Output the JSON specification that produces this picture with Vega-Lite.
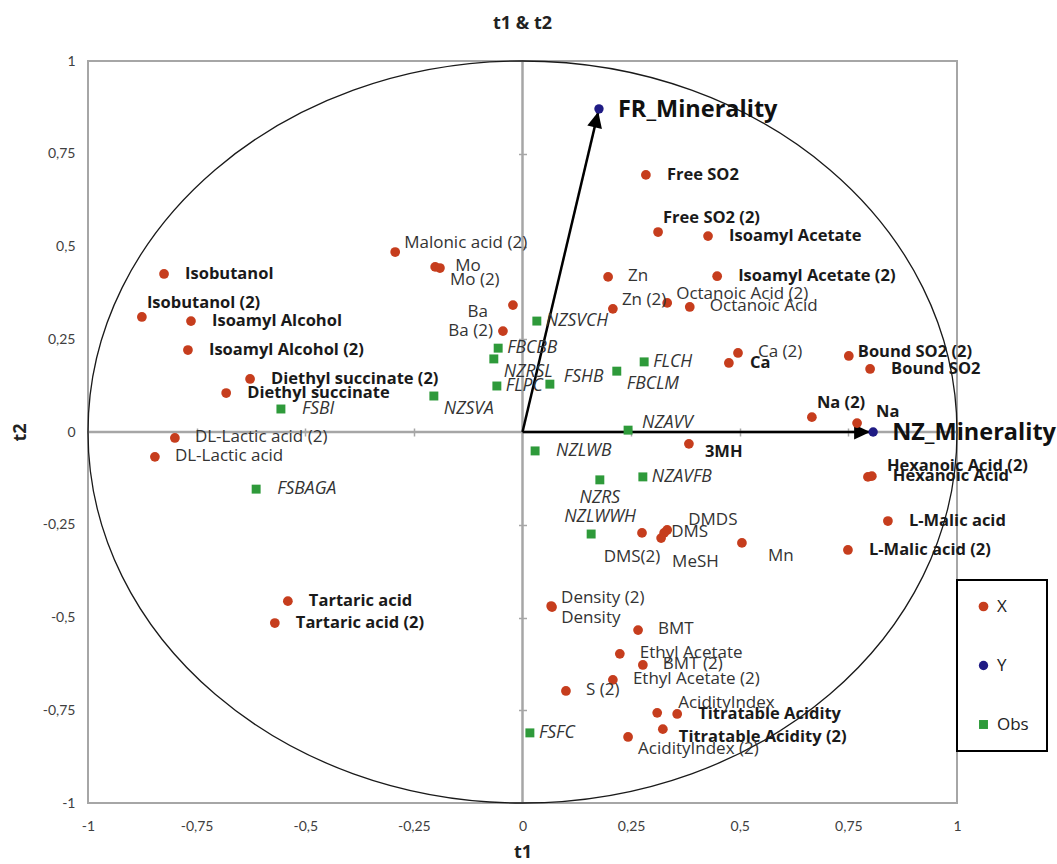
{
  "$schema": "https://vega.github.io/schema/vega-lite/v6.json",
  "width": 869,
  "height": 742,
  "autosize": {"type": "none"},
  "padding": {"left": 88, "top": 61, "right": 100, "bottom": 61},
  "background": "white",
  "title": {"text": "t1 & t2", "font": "Open Sans", "fontSize": 18, "fontWeight": "bold", "color": "#222222", "offset": 3, "baseline": "bottom", "anchor": "middle"},
  "config": {"view": {"stroke": "#a6a6a6", "strokeWidth": 2}},
  "resolve": {"axis": {"x": "independent", "y": "independent"}},
  "data": {"values": [
    {"name": "Isobutanol", "type": "X", "t1": -0.825, "t2": 0.426},
    {"name": "Isobutanol (2)", "type": "X", "t1": -0.876, "t2": 0.310},
    {"name": "Isoamyl Alcohol", "type": "X", "t1": -0.763, "t2": 0.299},
    {"name": "Isoamyl Alcohol (2)", "type": "X", "t1": -0.770, "t2": 0.221},
    {"name": "Diethyl succinate (2)", "type": "X", "t1": -0.627, "t2": 0.143},
    {"name": "Diethyl succinate", "type": "X", "t1": -0.682, "t2": 0.105},
    {"name": "DL-Lactic acid (2)", "type": "X", "t1": -0.800, "t2": -0.016},
    {"name": "DL-Lactic acid", "type": "X", "t1": -0.846, "t2": -0.067},
    {"name": "Malonic acid (2)", "type": "X", "t1": -0.293, "t2": 0.485},
    {"name": "Mo", "type": "X", "t1": -0.201, "t2": 0.445},
    {"name": "Mo (2)", "type": "X", "t1": -0.190, "t2": 0.442},
    {"name": "Ba", "type": "X", "t1": -0.022, "t2": 0.342},
    {"name": "Ba (2)", "type": "X", "t1": -0.045, "t2": 0.272},
    {"name": "Free SO2", "type": "X", "t1": 0.284, "t2": 0.693},
    {"name": "Free SO2 (2)", "type": "X", "t1": 0.312, "t2": 0.539},
    {"name": "Isoamyl Acetate", "type": "X", "t1": 0.427, "t2": 0.528},
    {"name": "Isoamyl Acetate (2)", "type": "X", "t1": 0.448, "t2": 0.420},
    {"name": "Zn", "type": "X", "t1": 0.197, "t2": 0.418},
    {"name": "Zn (2)", "type": "X", "t1": 0.208, "t2": 0.332},
    {"name": "Octanoic Acid (2)", "type": "X", "t1": 0.333, "t2": 0.348},
    {"name": "Octanoic Acid", "type": "X", "t1": 0.385, "t2": 0.337},
    {"name": "Ca (2)", "type": "X", "t1": 0.496, "t2": 0.213},
    {"name": "Ca", "type": "X", "t1": 0.475, "t2": 0.186},
    {"name": "Bound SO2 (2)", "type": "X", "t1": 0.751, "t2": 0.205},
    {"name": "Bound SO2", "type": "X", "t1": 0.800, "t2": 0.170},
    {"name": "Na (2)", "type": "X", "t1": 0.666, "t2": 0.040},
    {"name": "Na", "type": "X", "t1": 0.770, "t2": 0.024},
    {"name": "3MH", "type": "X", "t1": 0.383, "t2": -0.032},
    {"name": "Hexanoic Acid (2)", "type": "X", "t1": 0.795, "t2": -0.121},
    {"name": "Hexanoic Acid", "type": "X", "t1": 0.804, "t2": -0.119},
    {"name": "L-Malic acid", "type": "X", "t1": 0.841, "t2": -0.240},
    {"name": "L-Malic acid (2)", "type": "X", "t1": 0.749, "t2": -0.318},
    {"name": "DMDS", "type": "X", "t1": 0.333, "t2": -0.264},
    {"name": "DMS", "type": "X", "t1": 0.326, "t2": -0.272},
    {"name": "MeSH", "type": "X", "t1": 0.319, "t2": -0.286},
    {"name": "DMS(2)", "type": "X", "t1": 0.275, "t2": -0.272},
    {"name": "Mn", "type": "X", "t1": 0.505, "t2": -0.299},
    {"name": "Density (2)", "type": "X", "t1": 0.068, "t2": -0.472},
    {"name": "Density", "type": "X", "t1": 0.066, "t2": -0.469},
    {"name": "BMT", "type": "X", "t1": 0.266, "t2": -0.534},
    {"name": "Ethyl Acetate", "type": "X", "t1": 0.224, "t2": -0.598},
    {"name": "BMT (2)", "type": "X", "t1": 0.277, "t2": -0.628},
    {"name": "Ethyl Acetate (2)", "type": "X", "t1": 0.208, "t2": -0.668},
    {"name": "S (2)", "type": "X", "t1": 0.100, "t2": -0.698},
    {"name": "AcidityIndex", "type": "X", "t1": 0.310, "t2": -0.757},
    {"name": "Titratable Acidity", "type": "X", "t1": 0.356, "t2": -0.760},
    {"name": "Titratable Acidity (2)", "type": "X", "t1": 0.323, "t2": -0.801},
    {"name": "AcidityIndex (2)", "type": "X", "t1": 0.243, "t2": -0.822},
    {"name": "Tartaric acid", "type": "X", "t1": -0.540, "t2": -0.456},
    {"name": "Tartaric acid (2)", "type": "X", "t1": -0.570, "t2": -0.515},
    {"name": "FR_Minerality", "type": "Y", "t1": 0.176, "t2": 0.871},
    {"name": "NZ_Minerality", "type": "Y", "t1": 0.807, "t2": 0.0},
    {"name": "NZSVCH", "type": "Obs", "t1": 0.033, "t2": 0.299},
    {"name": "FBCBB", "type": "Obs", "t1": -0.056, "t2": 0.226},
    {"name": "NZRSL", "type": "Obs", "t1": -0.066, "t2": 0.197},
    {"name": "FLPC", "type": "Obs", "t1": -0.059, "t2": 0.124},
    {"name": "FSHB", "type": "Obs", "t1": 0.063, "t2": 0.129},
    {"name": "FBCLM", "type": "Obs", "t1": 0.217, "t2": 0.164},
    {"name": "FLCH", "type": "Obs", "t1": 0.280, "t2": 0.189},
    {"name": "NZSVA", "type": "Obs", "t1": -0.204, "t2": 0.097},
    {"name": "FSBI", "type": "Obs", "t1": -0.556, "t2": 0.062},
    {"name": "NZAVV", "type": "Obs", "t1": 0.243, "t2": 0.005},
    {"name": "NZLWB", "type": "Obs", "t1": 0.029, "t2": -0.051},
    {"name": "NZAVFB", "type": "Obs", "t1": 0.277, "t2": -0.121},
    {"name": "NZRS", "type": "Obs", "t1": 0.178, "t2": -0.129},
    {"name": "NZLWWH", "type": "Obs", "t1": 0.158, "t2": -0.275},
    {"name": "FSBAGA", "type": "Obs", "t1": -0.613, "t2": -0.154},
    {"name": "FSFC", "type": "Obs", "t1": 0.017, "t2": -0.811}
  ]},
  "layer": [
    {
      "data": {"values": [{}]},
      "mark": {"type": "rule", "color": "#a6a6a6", "strokeWidth": 2.5},
      "encoding": {
        "y": {"datum": 0, "type": "quantitative", "scale": {"domain": [-1, 1], "nice": false, "zero": false},
          "axis": {"orient": "left", "values": [-1, -0.75, -0.5, -0.25, 0, 0.25, 0.5, 0.75, 1], "labelExpr": "replace(toString(datum.value), '.', ',')", "ticks": false, "domain": false, "grid": false, "labelFlush": false, "labelPadding": 13, "labelFont": "Lato", "labelFontSize": 14, "labelColor": "#404040", "title": "t2", "titleFont": "Open Sans", "titleFontSize": 18, "titleFontWeight": "bold", "titleColor": "#222222", "titleAngle": -90, "titleX": -68, "titleY": 371, "titleAlign": "center", "titleBaseline": "middle"}}
      }
    },
    {
      "data": {"values": [{}]},
      "mark": {"type": "rule", "color": "#a6a6a6", "strokeWidth": 2.5},
      "encoding": {
        "x": {"datum": 0, "type": "quantitative", "scale": {"domain": [-1, 1], "nice": false, "zero": false},
          "axis": {"orient": "bottom", "values": [-1, -0.75, -0.5, -0.25, 0, 0.25, 0.5, 0.75, 1], "labelExpr": "replace(toString(datum.value), '.', ',')", "ticks": false, "domain": false, "grid": false, "labelFlush": false, "labelPadding": 16, "labelFont": "Lato", "labelFontSize": 14, "labelColor": "#404040", "title": "t1", "titleFont": "Open Sans", "titleFontSize": 18, "titleFontWeight": "bold", "titleColor": "#222222", "titleY": 49, "titleBaseline": "middle"}}
      }
    },
    {
      "data": {"values": [{}]},
      "mark": {"type": "point", "shape": "M-1,0 C-1,-0.4716 -0.5523,-0.8538 0,-0.8538 C0.5523,-0.8538 1,-0.4716 1,0 C1,0.4716 0.5523,0.8538 0,0.8538 C-0.5523,0.8538 -1,0.4716 -1,0 Z", "size": 755161, "filled": false, "stroke": "#1a1a1a", "strokeWidth": 1.3, "opacity": 1},
      "encoding": {
        "x": {"datum": 0, "type": "quantitative", "axis": {"orient": "bottom", "offset": -375, "values": [-0.75, -0.5, -0.25, 0.25, 0.5, 0.75], "ticks": true, "tickSize": 8, "tickColor": "#a6a6a6", "tickWidth": 1.5, "labels": false, "domain": false, "grid": false, "title": null}},
        "y": {"datum": 0, "type": "quantitative", "axis": {"orient": "left", "offset": -438.5, "values": [-0.75, -0.5, -0.25, 0.25, 0.5, 0.75], "ticks": true, "tickSize": 8, "tickColor": "#a6a6a6", "tickWidth": 1.5, "labels": false, "domain": false, "grid": false, "title": null}}
      }
    },
    {
      "transform": [{"filter": "datum.type == 'Y'"}],
      "mark": {"type": "rule", "color": "#000000", "strokeWidth": 2.5},
      "encoding": {
        "x": {"field": "t1", "type": "quantitative", "axis": null},
        "y": {"field": "t2", "type": "quantitative", "axis": null},
        "x2": {"datum": 0},
        "y2": {"datum": 0}
      }
    },
    {
      "transform": [{"filter": "datum.name == 'NZ_Minerality'"}],
      "mark": {"type": "point", "shape": "M-0.6,0 L-3.8,-1.5 L-3.8,1.5 Z", "size": 100, "filled": true, "color": "#000000", "opacity": 1, "angle": 0},
      "encoding": {
        "x": {"field": "t1", "type": "quantitative", "axis": null},
        "y": {"field": "t2", "type": "quantitative", "axis": null}
      }
    },
    {
      "transform": [{"filter": "datum.name == 'FR_Minerality'"}],
      "mark": {"type": "point", "shape": "M-0.6,0 L-3.8,-1.5 L-3.8,1.5 Z", "size": 100, "filled": true, "color": "#000000", "opacity": 1, "angle": 283.3},
      "encoding": {
        "x": {"field": "t1", "type": "quantitative", "axis": null},
        "y": {"field": "t2", "type": "quantitative", "axis": null}
      }
    },
    {
      "mark": {"type": "point", "filled": true, "opacity": 1, "strokeWidth": 0},
      "encoding": {
        "x": {"field": "t1", "type": "quantitative", "axis": null},
        "y": {"field": "t2", "type": "quantitative", "axis": null},
        "color": {"field": "type", "type": "nominal", "scale": {"domain": ["X", "Y", "Obs"], "range": ["#c63d1d", "#1f1b84", "#2e9a3a"]},
          "legend": {"orient": "none", "legendX": 869, "legendY": 519, "title": null, "strokeColor": "#000000", "padding": 18, "rowPadding": 41, "labelFont": "Open Sans", "labelFontSize": 17, "labelColor": "#222222", "symbolSize": 100, "symbolStrokeWidth": 0, "labelOffset": 5, "encoding": {"legend": {"strokeWidth": {"value": 2}}}}},
        "shape": {"field": "type", "type": "nominal", "scale": {"domain": ["X", "Y", "Obs"], "range": ["circle", "circle", "square"]},
          "legend": {"orient": "none", "legendX": 869, "legendY": 519, "title": null, "strokeColor": "#000000", "padding": 18, "rowPadding": 41, "labelFont": "Open Sans", "labelFontSize": 17, "labelColor": "#222222", "symbolSize": 100, "symbolStrokeWidth": 0, "labelOffset": 5, "encoding": {"legend": {"strokeWidth": {"value": 2}}}}},
        "size": {"field": "type", "type": "nominal", "scale": {"domain": ["X", "Y", "Obs"], "range": [95, 80, 110]}, "legend": null}
      }
    },
    {
      "transform": [{"filter": {"field": "name", "oneOf": ["Isobutanol", "Isoamyl Alcohol", "Isoamyl Alcohol (2)", "Diethyl succinate (2)", "Diethyl succinate", "Tartaric acid", "Tartaric acid (2)", "Free SO2", "Isoamyl Acetate", "Isoamyl Acetate (2)", "Ca", "Bound SO2", "Hexanoic Acid", "L-Malic acid", "L-Malic acid (2)", "Titratable Acidity"]}}],
      "mark": {"type": "text", "align": "left", "baseline": "middle", "dx": 21, "dy": 0, "font": "Open Sans", "fontSize": 16.5, "fontWeight": "bold", "color": "#1a1a1a"},
      "encoding": {"x": {"field": "t1", "type": "quantitative", "axis": null}, "y": {"field": "t2", "type": "quantitative", "axis": null}, "text": {"field": "name"}}
    },
    {
      "transform": [{"filter": {"field": "name", "oneOf": ["Isobutanol (2)", "Free SO2 (2)", "Na (2)"]}}],
      "mark": {"type": "text", "align": "left", "baseline": "middle", "dx": 5, "dy": -14, "font": "Open Sans", "fontSize": 16.5, "fontWeight": "bold", "color": "#1a1a1a"},
      "encoding": {"x": {"field": "t1", "type": "quantitative", "axis": null}, "y": {"field": "t2", "type": "quantitative", "axis": null}, "text": {"field": "name"}}
    },
    {
      "transform": [{"filter": {"field": "name", "oneOf": ["Na", "Hexanoic Acid (2)"]}}],
      "mark": {"type": "text", "align": "left", "baseline": "middle", "dx": 19, "dy": -11, "font": "Open Sans", "fontSize": 16.5, "fontWeight": "bold", "color": "#1a1a1a"},
      "encoding": {"x": {"field": "t1", "type": "quantitative", "axis": null}, "y": {"field": "t2", "type": "quantitative", "axis": null}, "text": {"field": "name"}}
    },
    {
      "transform": [{"filter": {"field": "name", "oneOf": ["Bound SO2 (2)"]}}],
      "mark": {"type": "text", "align": "left", "baseline": "middle", "dx": 9, "dy": -4, "font": "Open Sans", "fontSize": 16.5, "fontWeight": "bold", "color": "#1a1a1a"},
      "encoding": {"x": {"field": "t1", "type": "quantitative", "axis": null}, "y": {"field": "t2", "type": "quantitative", "axis": null}, "text": {"field": "name"}}
    },
    {
      "transform": [{"filter": {"field": "name", "oneOf": ["3MH", "Titratable Acidity (2)"]}}],
      "mark": {"type": "text", "align": "left", "baseline": "middle", "dx": 16, "dy": 8, "font": "Open Sans", "fontSize": 16.5, "fontWeight": "bold", "color": "#1a1a1a"},
      "encoding": {"x": {"field": "t1", "type": "quantitative", "axis": null}, "y": {"field": "t2", "type": "quantitative", "axis": null}, "text": {"field": "name"}}
    },
    {
      "transform": [{"filter": "datum.type == 'Y'"}],
      "mark": {"type": "text", "align": "left", "baseline": "middle", "dx": 19, "dy": 1, "font": "Open Sans", "fontSize": 23.5, "fontWeight": "bold", "color": "#111111"},
      "encoding": {"x": {"field": "t1", "type": "quantitative", "axis": null}, "y": {"field": "t2", "type": "quantitative", "axis": null}, "text": {"field": "name"}}
    },
    {
      "transform": [{"filter": {"field": "name", "oneOf": ["DL-Lactic acid (2)", "DL-Lactic acid", "Zn", "Octanoic Acid", "Ca (2)", "BMT", "BMT (2)", "Ethyl Acetate (2)", "S (2)", "Mo", "Ethyl Acetate"]}}],
      "mark": {"type": "text", "align": "left", "baseline": "middle", "dx": 20, "dy": -1, "font": "Open Sans", "fontSize": 17, "color": "#333333"},
      "encoding": {"x": {"field": "t1", "type": "quantitative", "axis": null}, "y": {"field": "t2", "type": "quantitative", "axis": null}, "text": {"field": "name"}}
    },
    {
      "transform": [{"filter": {"field": "name", "oneOf": ["Malonic acid (2)", "Zn (2)", "Octanoic Acid (2)", "Density (2)"]}}],
      "mark": {"type": "text", "align": "left", "baseline": "middle", "dx": 9, "dy": -9, "font": "Open Sans", "fontSize": 17, "color": "#333333"},
      "encoding": {"x": {"field": "t1", "type": "quantitative", "axis": null}, "y": {"field": "t2", "type": "quantitative", "axis": null}, "text": {"field": "name"}}
    },
    {
      "transform": [{"filter": {"field": "name", "oneOf": ["AcidityIndex", "DMDS"]}}],
      "mark": {"type": "text", "align": "left", "baseline": "middle", "dx": 21, "dy": -10, "font": "Open Sans", "fontSize": 17, "color": "#333333"},
      "encoding": {"x": {"field": "t1", "type": "quantitative", "axis": null}, "y": {"field": "t2", "type": "quantitative", "axis": null}, "text": {"field": "name"}}
    },
    {
      "transform": [{"filter": {"field": "name", "oneOf": ["Mo (2)", "Density", "AcidityIndex (2)"]}}],
      "mark": {"type": "text", "align": "left", "baseline": "middle", "dx": 10, "dy": 12, "font": "Open Sans", "fontSize": 17, "color": "#333333"},
      "encoding": {"x": {"field": "t1", "type": "quantitative", "axis": null}, "y": {"field": "t2", "type": "quantitative", "axis": null}, "text": {"field": "name"}}
    },
    {
      "transform": [{"filter": {"field": "name", "oneOf": ["MeSH"]}}],
      "mark": {"type": "text", "align": "left", "baseline": "middle", "dx": 11, "dy": 24, "font": "Open Sans", "fontSize": 17, "color": "#333333"},
      "encoding": {"x": {"field": "t1", "type": "quantitative", "axis": null}, "y": {"field": "t2", "type": "quantitative", "axis": null}, "text": {"field": "name"}}
    },
    {
      "transform": [{"filter": {"field": "name", "oneOf": ["Mn"]}}],
      "mark": {"type": "text", "align": "left", "baseline": "middle", "dx": 26, "dy": 13, "font": "Open Sans", "fontSize": 17, "color": "#333333"},
      "encoding": {"x": {"field": "t1", "type": "quantitative", "axis": null}, "y": {"field": "t2", "type": "quantitative", "axis": null}, "text": {"field": "name"}}
    },
    {
      "transform": [{"filter": {"field": "name", "oneOf": ["DMS"]}}],
      "mark": {"type": "text", "align": "left", "baseline": "middle", "dx": 7, "dy": -1, "font": "Open Sans", "fontSize": 17, "color": "#333333"},
      "encoding": {"x": {"field": "t1", "type": "quantitative", "axis": null}, "y": {"field": "t2", "type": "quantitative", "axis": null}, "text": {"field": "name"}}
    },
    {
      "transform": [{"filter": {"field": "name", "oneOf": ["Ba (2)"]}}],
      "mark": {"type": "text", "align": "right", "baseline": "middle", "dx": -10, "dy": 0, "font": "Open Sans", "fontSize": 17, "color": "#333333"},
      "encoding": {"x": {"field": "t1", "type": "quantitative", "axis": null}, "y": {"field": "t2", "type": "quantitative", "axis": null}, "text": {"field": "name"}}
    },
    {
      "transform": [{"filter": {"field": "name", "oneOf": ["Ba"]}}],
      "mark": {"type": "text", "align": "right", "baseline": "middle", "dx": -25, "dy": 7, "font": "Open Sans", "fontSize": 17, "color": "#333333"},
      "encoding": {"x": {"field": "t1", "type": "quantitative", "axis": null}, "y": {"field": "t2", "type": "quantitative", "axis": null}, "text": {"field": "name"}}
    },
    {
      "transform": [{"filter": {"field": "name", "oneOf": ["DMS(2)"]}}],
      "mark": {"type": "text", "align": "center", "baseline": "middle", "dx": -10, "dy": 24, "font": "Open Sans", "fontSize": 17, "color": "#333333"},
      "encoding": {"x": {"field": "t1", "type": "quantitative", "axis": null}, "y": {"field": "t2", "type": "quantitative", "axis": null}, "text": {"field": "name"}}
    },
    {
      "transform": [{"filter": {"field": "name", "oneOf": ["NZSVCH", "FBCBB", "FLPC", "FLCH", "NZAVFB", "FSFC"]}}],
      "mark": {"type": "text", "align": "left", "baseline": "middle", "dx": 9, "dy": 0, "font": "Open Sans", "fontSize": 17.5, "fontStyle": "italic", "color": "#333333"},
      "encoding": {"x": {"field": "t1", "type": "quantitative", "axis": null}, "y": {"field": "t2", "type": "quantitative", "axis": null}, "text": {"field": "name"}}
    },
    {
      "transform": [{"filter": {"field": "name", "oneOf": ["FSBI", "FSBAGA", "NZLWB"]}}],
      "mark": {"type": "text", "align": "left", "baseline": "middle", "dx": 21, "dy": 0, "font": "Open Sans", "fontSize": 17.5, "fontStyle": "italic", "color": "#333333"},
      "encoding": {"x": {"field": "t1", "type": "quantitative", "axis": null}, "y": {"field": "t2", "type": "quantitative", "axis": null}, "text": {"field": "name"}}
    },
    {
      "transform": [{"filter": {"field": "name", "oneOf": ["FSHB", "NZAVV"]}}],
      "mark": {"type": "text", "align": "left", "baseline": "middle", "dx": 14, "dy": -7, "font": "Open Sans", "fontSize": 17.5, "fontStyle": "italic", "color": "#333333"},
      "encoding": {"x": {"field": "t1", "type": "quantitative", "axis": null}, "y": {"field": "t2", "type": "quantitative", "axis": null}, "text": {"field": "name"}}
    },
    {
      "transform": [{"filter": {"field": "name", "oneOf": ["NZRSL", "FBCLM", "NZSVA"]}}],
      "mark": {"type": "text", "align": "left", "baseline": "middle", "dx": 10, "dy": 13, "font": "Open Sans", "fontSize": 17.5, "fontStyle": "italic", "color": "#333333"},
      "encoding": {"x": {"field": "t1", "type": "quantitative", "axis": null}, "y": {"field": "t2", "type": "quantitative", "axis": null}, "text": {"field": "name"}}
    },
    {
      "transform": [{"filter": {"field": "name", "oneOf": ["NZRS"]}}],
      "mark": {"type": "text", "align": "center", "baseline": "middle", "dx": 0, "dy": 18, "font": "Open Sans", "fontSize": 17.5, "fontStyle": "italic", "color": "#333333"},
      "encoding": {"x": {"field": "t1", "type": "quantitative", "axis": null}, "y": {"field": "t2", "type": "quantitative", "axis": null}, "text": {"field": "name"}}
    },
    {
      "transform": [{"filter": {"field": "name", "oneOf": ["NZLWWH"]}}],
      "mark": {"type": "text", "align": "center", "baseline": "middle", "dx": 9, "dy": -17, "font": "Open Sans", "fontSize": 17.5, "fontStyle": "italic", "color": "#333333"},
      "encoding": {"x": {"field": "t1", "type": "quantitative", "axis": null}, "y": {"field": "t2", "type": "quantitative", "axis": null}, "text": {"field": "name"}}
    }
  ]
}
